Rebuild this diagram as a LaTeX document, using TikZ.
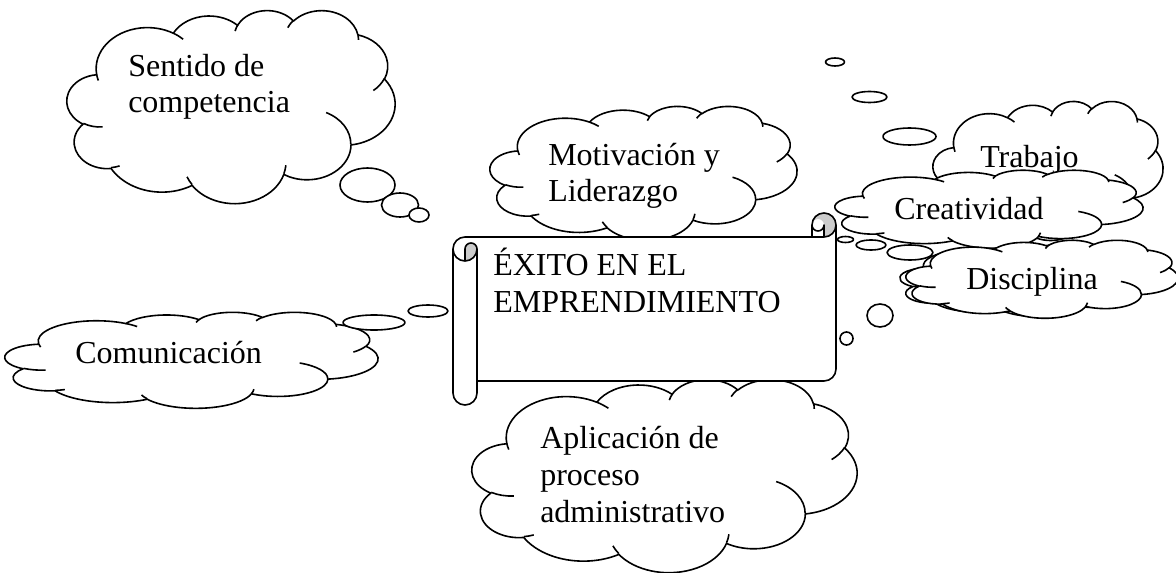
\documentclass[tikz,border=0pt]{standalone}
\usepackage{fontspec}
\setmainfont{Liberation Serif}

% parametric angles for OOXML-style arcs (visual angle -> parametric angle)
\newcommand\ooprep[5]{%
  \pgfmathsetmacro\ooA{#4}%
  \pgfmathsetmacro\ooD{atan2((#2)*sin(\ooA),(#3)*cos(\ooA))-\ooA}%
  \pgfmathsetmacro\ooS{\ooA+\ooD-360*round(\ooD/360)}%
  \pgfmathsetmacro\ooB{#4+#5}%
  \pgfmathsetmacro\ooD{atan2((#2)*sin(\ooB),(#3)*cos(\ooB))-\ooB}%
  \pgfmathsetmacro\ooE{\ooB+\ooD-360*round(\ooD/360)}%
  \expandafter\xdef\csname oos#1\endcsname{\ooS}%
  \expandafter\xdef\csname ooe#1\endcsname{\ooE}%
}
\ooprep{Oa}{67.53}{91.90}{-190.4875}{123.7805}
\ooprep{Ob}{53.33}{72.67}{-144.1024}{89.9452}
\ooprep{Oc}{43.65}{59.45}{-145.8079}{99.7230}
\ooprep{Od}{48.57}{65.95}{-130.9861}{117.2417}
\ooprep{Oe}{53.33}{72.73}{-78.7089}{109.0269}
\ooprep{Of}{67.75}{92.20}{-46.2673}{130.2690}
\ooprep{Og}{57.85}{78.67}{0.6250}{114.0333}
\ooprep{Oh}{67.52}{92.15}{22.4516}{115.1726}
\ooprep{Oi}{77.20}{105.43}{66.2426}{75.7110}
\ooprep{Oj}{43.60}{59.18}{-274.9421}{146.7356}
\ooprep{Ok}{43.45}{59.45}{-246.8285}{152.5189}
\ooprep{Ca}{43.45}{59.45}{86.7420}{26.4295}
\ooprep{Cb}{43.60}{59.18}{73.6105}{11.4475}
\ooprep{Cc}{67.52}{92.15}{137.6242}{14.0811}
\ooprep{Cd}{67.52}{92.15}{6.4533}{15.9984}
\ooprep{Ce}{57.85}{78.67}{-70.2924}{70.9174}
\ooprep{Cf}{53.33}{72.73}{30.3180}{27.7515}
\ooprep{Cg}{48.57}{65.95}{-13.7443}{14.8589}
\ooprep{Ch}{48.57}{65.95}{-149.1815}{18.1954}
\ooprep{Ci}{43.65}{59.45}{-163.4943}{17.6864}
\ooprep{Cj}{67.53}{91.90}{-66.7070}{12.3194}
\ooprep{Ck}{67.53}{91.90}{157.6544}{11.8582}

\tikzset{
  ln/.style={line width=1.2pt, line join=round},
  bub/.style={ln, fill=white},
  txt/.style={font=\fontsize{24}{27.4}\selectfont, align=left, inner sep=0pt, anchor=base west},
}

% Word-style cloud: left, top, width, height (pixels)
\newcommand\wcloud[4]{%
  \pgfmathsetmacro\wcx{(#3)*0.75/432}%
  \pgfmathsetmacro\wcy{(#4)*0.75/432}%
  \begin{scope}[shift={(#1,#2)}, x=\wcx pt, y=-\wcy pt]
  \draw[bub] (39.00,143.70)
   arc[start angle=\oosOa, end angle=\ooeOa, x radius=67.53, y radius=91.90]
   arc[start angle=\oosOb, end angle=\ooeOb, x radius=53.33, y radius=72.67]
   arc[start angle=\oosOc, end angle=\ooeOc, x radius=43.65, y radius=59.45]
   arc[start angle=\oosOd, end angle=\ooeOd, x radius=48.57, y radius=65.95]
   arc[start angle=\oosOe, end angle=\ooeOe, x radius=53.33, y radius=72.73]
   arc[start angle=\oosOf, end angle=\ooeOf, x radius=67.75, y radius=92.20]
   arc[start angle=\oosOg, end angle=\ooeOg, x radius=57.85, y radius=78.67]
   arc[start angle=\oosOh, end angle=\ooeOh, x radius=67.52, y radius=92.15]
   arc[start angle=\oosOi, end angle=\ooeOi, x radius=77.20, y radius=105.43]
   arc[start angle=\oosOj, end angle=\ooeOj, x radius=43.60, y radius=59.18]
   arc[start angle=\oosOk, end angle=\ooeOk, x radius=43.45, y radius=59.45]
   -- cycle;
  \draw[ln]
   (46.93,261.77) arc[start angle=\oosCa, end angle=\ooeCa, x radius=43.45, y radius=59.45]
   (69.28,348.99) arc[start angle=\oosCb, end angle=\ooeCb, x radius=43.60, y radius=59.18]
   (164.78,390.90) arc[start angle=\oosCc, end angle=\ooeCc, x radius=67.52, y radius=92.15]
   (288.27,347.51) arc[start angle=\oosCd, end angle=\ooeCd, x radius=67.52, y radius=92.15]
   (341.29,229.54) arc[start angle=\oosCe, end angle=\ooeCe, x radius=57.85, y radius=78.67]
   (417.98,153.54) arc[start angle=\oosCf, end angle=\ooeCf, x radius=53.33, y radius=72.73]
   (383.24,54.26) arc[start angle=\oosCg, end angle=\ooeCg, x radius=48.57, y radius=65.95]
   (290.78,39.52) arc[start angle=\oosCh, end angle=\ooeCh, x radius=48.57, y radius=65.95]
   (221.41,47.20) arc[start angle=\oosCi, end angle=\ooeCi, x radius=43.65, y radius=59.45]
   (140.00,51.92) arc[start angle=\oosCj, end angle=\ooeCj, x radius=67.53, y radius=91.90]
   (41.27,157.89) arc[start angle=\oosCk, end angle=\ooeCk, x radius=67.53, y radius=91.90];
  \end{scope}}

\begin{document}
\begin{tikzpicture}[x=0.75pt, y=-0.75pt]
\useasboundingbox (0,0) rectangle (1176,573);
\fill[white] (0,0) rectangle (1176,573);

% Sentido de competencia
\wcloud{67}{10}{328}{193}
\node[txt] (sentido) at (128,113) {Sentido de\\competencia};
\draw[bub] (367.5,185) ellipse[x radius=27.5, y radius=17];
\draw[bub] (400,205) ellipse[x radius=18.5, y radius=12];
\draw[bub] (419,215) ellipse[x radius=10, y radius=7];

% Motivacion y Liderazgo
\wcloud{490}{106}{307}{134}
\node[txt] (motiv) at (548,202) {Motivación y\\Liderazgo};

% Comunicacion
\wcloud{5}{312}{373}{96}
\node[txt] (comun) at (75,363) {Comunicación};
\draw[bub] (374,322.5) ellipse[x radius=31, y radius=7.5];
\draw[bub] (428,311) ellipse[x radius=20, y radius=6];

% Aplicacion de proceso administrativo
\wcloud{472}{379}{385}{193}
\node[txt] (aplic) at (540,522) {Aplicación de\\proceso\\administrativo};

% Trabajo
\wcloud{933}{101}{230}{139}
\node[txt] (trabajo) at (980,168) {Trabajo};
\draw[bub] (835,62) ellipse[x radius=9.5, y radius=4];
\draw[bub] (869.5,97) ellipse[x radius=17.5, y radius=5.5];
\draw[bub] (909.5,136.5) ellipse[x radius=26.5, y radius=8.5];

% Creatividad
\wcloud{835}{170}{308}{78}
\node[txt] (creat) at (894,220) {Creatividad};

% Disciplina
\wcloud{900}{244}{262}{72}
\draw[bub] (845.5,239.5) ellipse[x radius=8, y radius=3];
\draw[bub] (871,245) ellipse[x radius=15, y radius=5];
\draw[bub] (910,252.5) ellipse[x radius=23, y radius=7.5];
\wcloud{906}{240}{272}{78}
\node[txt] (disc) at (966,290) {Disciplina};

% Scroll
\path[fill=white] (453,249) arc[start angle=180, end angle=270, radius=12]
  -- (812,237) -- (812,225) arc[start angle=180, end angle=360, radius=12]
  -- (836,369) arc[start angle=0, end angle=90, radius=12]
  -- (477,381) -- (477,393) arc[start angle=0, end angle=180, radius=12] -- cycle;
\fill[gray!40] (824,237) arc[start angle=90, end angle=-180, radius=12]
  arc[start angle=180, end angle=360, radius=6] -- cycle;
\fill[gray!40] (465,261) arc[start angle=90, end angle=0, radius=12]
  arc[start angle=0, end angle=-180, radius=6] -- cycle;
\draw[ln] (453,249) arc[start angle=180, end angle=270, radius=12]
  -- (812,237) -- (812,225) arc[start angle=180, end angle=360, radius=12]
  -- (836,369) arc[start angle=0, end angle=90, radius=12]
  -- (477,381) -- (477,393) arc[start angle=0, end angle=180, radius=12] -- cycle;
\draw[ln] (812,237) -- (824,237) arc[start angle=90, end angle=0, radius=12];
\draw[ln] (824,237) -- (824,225) arc[start angle=0, end angle=180, radius=6];
\draw[ln] (465,261) -- (465,249) arc[start angle=180, end angle=360, radius=6]
  arc[start angle=0, end angle=180, radius=12];
\draw[ln] (477,249) -- (477,381);
\node[txt] (exito) at (493,312) {ÉXITO EN EL\\EMPRENDIMIENTO};

% small bubbles right of the scroll
\draw[bub] (880,315.5) ellipse[x radius=13, y radius=11.5];
\draw[bub] (846.5,338.5) ellipse[x radius=6.5, y radius=6.5];
\end{tikzpicture}
\end{document}
